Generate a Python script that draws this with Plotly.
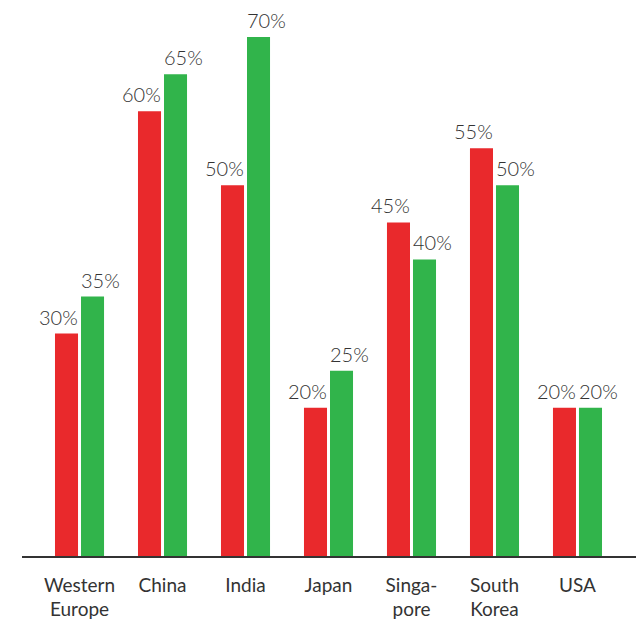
import plotly.graph_objects as go

categories = ["Western<br>Europe", "China", "India", "Japan", "Singa-<br>pore", "South<br>Korea", "USA"]
series_red = [30, 60, 50, 20, 45, 55, 20]
series_green = [35, 65, 70, 25, 40, 50, 20]

RED = "#e9292c"
GREEN = "#31b44b"
TEXT = "#333333"
FONT = "Lato"

fig = go.Figure()
fig.add_trace(go.Bar(x=categories, y=series_red, marker=dict(color=RED, line=dict(width=0)), name="A"))
fig.add_trace(go.Bar(x=categories, y=series_green, marker=dict(color=GREEN, line=dict(width=0)), name="B"))

annotations = []
for c, v in zip(categories, series_red):
    annotations.append(dict(x=c, y=v, xref="x", yref="y", text=f"{v}%", showarrow=False,
                            xanchor="center", yanchor="bottom", xshift=-21, yshift=3,
                            font=dict(family=FONT, size=20, color=TEXT, weight=300)))
for c, v in zip(categories, series_green):
    annotations.append(dict(x=c, y=v, xref="x", yref="y", text=f"{v}%", showarrow=False,
                            xanchor="center", yanchor="bottom", xshift=21, yshift=3,
                            font=dict(family=FONT, size=20, color=TEXT, weight=300)))

fig.update_layout(
    width=642, height=623,
    margin=dict(l=22, r=6, t=0, b=67),
    paper_bgcolor="white", plot_bgcolor="white",
    barmode="group", bargap=0.373, bargroupgap=0.115,
    showlegend=False,
    annotations=annotations,
    font=dict(family=FONT, color=TEXT),
    xaxis=dict(range=[-0.693, 6.705], showgrid=False, zeroline=False,
               showline=True, linecolor="#333333", linewidth=1.5,
               ticks="outside", ticklen=11, tickcolor="rgba(0,0,0,0)",
               tickfont=dict(family=FONT, size=19, color=TEXT)),
    yaxis=dict(range=[0, 75], visible=False, showgrid=False, zeroline=False),
)

fig.write_html("out.html")
